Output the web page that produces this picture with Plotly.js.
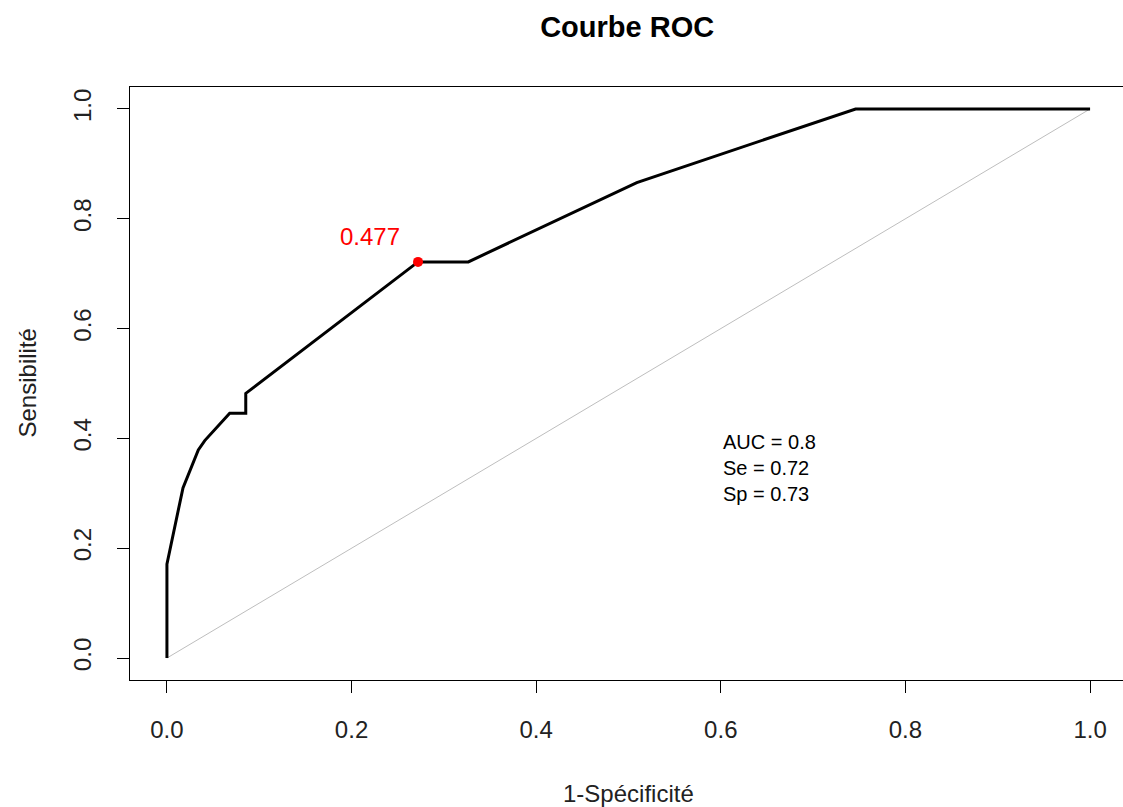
<!DOCTYPE html>
<html>
<head>
<meta charset="utf-8">
<script src="https://cdn.plot.ly/plotly-3.0.1.min.js"></script>
<style>
html,body{margin:0;padding:0;overflow:hidden;background:#fff;}
#chart{width:1127px;height:807px;}
</style>
</head>
<body>
<div id="chart"></div>
<script>
// ROC curve values (1-specificity, sensitivity)
const fpr = [0, 0, 0.003, 0.0076, 0.012, 0.0174, 0.034, 0.041, 0.068, 0.0854, 0.0854, 0.272, 0.3265, 0.509, 0.746, 1.0];
const tpr = [0, 0.171, 0.195, 0.231, 0.262, 0.31, 0.379, 0.396, 0.446, 0.446, 0.482, 0.7215, 0.7215, 0.866, 1.0, 1.0];
const diagX = [0, 1];
const diagY = [0, 1];
const bestX = [0.272];
const bestY = [0.7215];
const bestThreshold = "0.477";
const statsLines = ["AUC = 0.8", "Se = 0.72", "Sp = 0.73"];
const tickVals = [0, 0.2, 0.4, 0.6, 0.8, 1.0];
const tickText = ["0.0", "0.2", "0.4", "0.6", "0.8", "1.0"];

const FONT = '"Liberation Sans", Arial, sans-serif';

const traces = [
  {x: diagX, y: diagY, mode: 'lines', line: {color: '#BEBEBE', width: 1}, hoverinfo: 'skip'},
  {x: fpr, y: tpr, mode: 'lines', line: {color: '#000000', width: 3}},
  {x: bestX, y: bestY, mode: 'markers', marker: {color: '#FF0000', size: 10}}
];

const axisCommon = {
  range: [-0.04, 1.04],
  showgrid: false, zeroline: false,
  showline: true, mirror: true, linecolor: '#000', linewidth: 1,
  ticks: 'outside', ticklen: 12, tickwidth: 1, tickcolor: '#000',
  tickvals: tickVals, ticktext: tickText,
  tickfont: {family: FONT, size: 24, color: '#222'},
  fixedrange: true
};

const layout = {
  width: 1127, height: 807,
  margin: {l: 130, r: 0, t: 87, b: 127},
  paper_bgcolor: '#fff', plot_bgcolor: '#fff',
  showlegend: false,
  font: {family: FONT, color: '#000'},
  title: {text: '<b>Courbe ROC</b>', font: {family: FONT, size: 29, color: '#000'},
          x: 0.5565, xref: 'container', xanchor: 'center', y: 1 - 27/807, yref: 'container', yanchor: 'middle'},
  xaxis: Object.assign({}, axisCommon, {ticklabelstandoff: 16}),
  yaxis: Object.assign({}, axisCommon, {tickangle: -90, ticklabelstandoff: 16}),
  annotations: [
    {x: 0.5, y: 0, xref: 'paper', yref: 'paper', text: '1-Spécificité', showarrow: false,
     xanchor: 'center', yanchor: 'middle', yshift: -113, font: {family: FONT, size: 24, color: '#222'}},
    {x: 0, y: 0.5, xref: 'paper', yref: 'paper', text: 'Sensibilité', showarrow: false, textangle: -90,
     xanchor: 'center', yanchor: 'middle', xshift: -103, font: {family: FONT, size: 24, color: '#222'}},
    {x: 0.22, y: 0.767, xref: 'x', yref: 'y', text: bestThreshold, showarrow: false,
     xanchor: 'center', yanchor: 'middle', font: {family: FONT, size: 24, color: '#FF0000'}},
    {x: 0.6, y: 0.347, xref: 'x', yref: 'y', text: statsLines.join('<br>'), showarrow: false, align: 'left',
     xanchor: 'left', yanchor: 'middle', font: {family: FONT, size: 20, color: '#000'}}
  ]
};

Plotly.newPlot('chart', traces, layout, {displayModeBar: false, staticPlot: true});
</script>
</body>
</html>
